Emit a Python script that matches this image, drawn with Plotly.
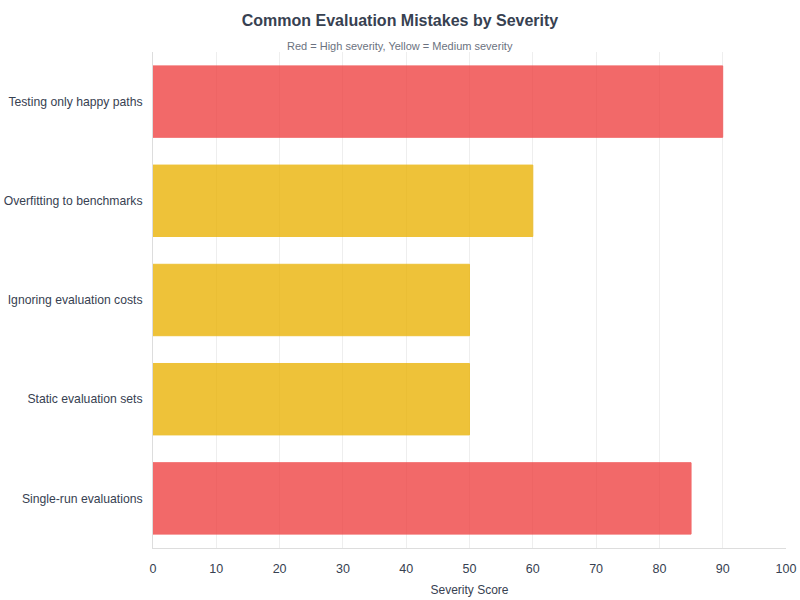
import plotly.graph_objects as go

# data, top to bottom as shown
mistakes = [
    "Testing only happy paths",
    "Overfitting to benchmarks",
    "Ignoring evaluation costs",
    "Static evaluation sets",
    "Single-run evaluations",
]
severity = [90, 60, 50, 50, 85]
level = ["High", "Medium", "Medium", "Medium", "High"]

level_colors = {"High": "#ef4444", "Medium": "#eab308"}
bar_colors = [level_colors[l] for l in level]

W, H = 800, 600
L, R, T, B = 153, 14, 52, 52
plot_w, plot_h = W - L - R, H - T - B

fig = go.Figure()
fig.add_trace(go.Bar(
    x=severity,
    y=mistakes,
    orientation="h",
    marker=dict(color=bar_colors, opacity=0.8,
                line=dict(color=bar_colors, width=1)),
    hovertemplate="%{y}: %{x}<extra></extra>",
))

fig.update_layout(
    width=W, height=H,
    font=dict(family="Liberation Sans, Arial, sans-serif", size=12, color="#374151"),
    title=dict(
        text="<b>Common Evaluation Mistakes by Severity</b>",
        x=0.5, xanchor="center", xref="container",
        y=1 - 20 / H, yanchor="middle", yref="container",
        font=dict(size=16, color="#374151"),
    ),
    # subtitle centred on the page, not on the plot area
    annotations=[dict(
        text="Red = High severity, Yellow = Medium severity",
        x=(W / 2 - L) / plot_w, xref="paper", xanchor="center",
        y=1 + 6 / plot_h, yref="paper", yanchor="middle",
        showarrow=False, font=dict(size=11, color="#6b7280"),
    )],
    margin=dict(l=L, r=R, t=T, b=B, autoexpand=False),
    plot_bgcolor="white",
    paper_bgcolor="white",
    bargap=0.28,
    showlegend=False,
)
fig.update_xaxes(
    range=[0, 100], dtick=10,
    showgrid=True, gridcolor="#eeeeee",
    showline=True, linecolor="#dddddd",
    zeroline=False, automargin=False,
    ticklabelstandoff=9,
    title=dict(text="Severity Score", font=dict(size=12, color="#374151"), standoff=10),
    tickfont=dict(size=12.5, color="#374151"),
)
fig.update_yaxes(
    autorange="reversed",
    showline=True, linecolor="#dddddd",
    showgrid=False, automargin=False,
    ticks="", ticklabelstandoff=7,
    tickfont=dict(size=12.2, color="#374151"),
)

# drop the page's default body margin so the figure sits at the top-left corner
fig.write_html("out.html", config={"displayModeBar": False},
               post_script="document.body.style.margin = '0px';")
